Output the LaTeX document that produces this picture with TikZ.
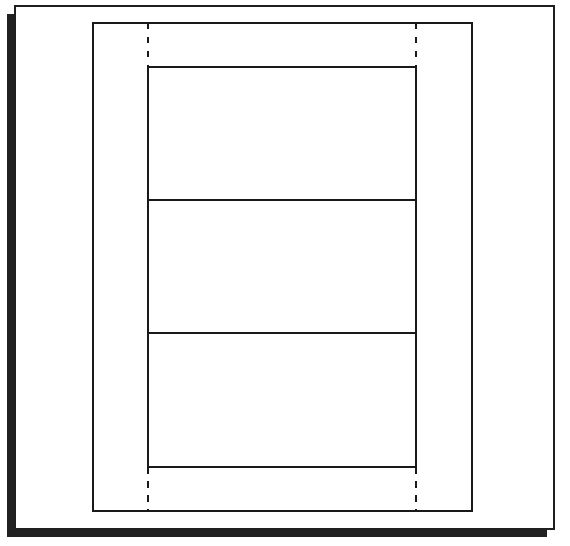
\documentclass[tikz,border=0pt]{standalone}
\tikzset{
  frameline/.style={line width=2.2bp, draw=black!88},
  thinline/.style={line width=1.5bp, draw=black!90},
  cutline/.style={line width=1.5bp, draw=black!90, dash pattern=on 6.5bp off 7.5bp}
}
\begin{document}
\begin{tikzpicture}[x=1bp,y=-1bp]
\useasboundingbox (0,0) rectangle (570,546);
% shadow
\fill[black!87] (7,14) rectangle (547,537);
% outer frame
\filldraw[fill=white, frameline] (15,6) rectangle (554,529);
% inner sheet
\draw[thinline] (93,23) rectangle (472,511);
% panels
\draw[thinline] (148,67) rectangle (416,467);
\draw[thinline] (148,200) -- (416,200);
\draw[thinline] (148,333) -- (416,333);
% dashed extensions
\draw[cutline] (148,23) -- (148,67);
\draw[cutline] (416,23) -- (416,67);
\draw[cutline] (148,467) -- (148,511);
\draw[cutline] (416,467) -- (416,511);
\end{tikzpicture}
\end{document}
